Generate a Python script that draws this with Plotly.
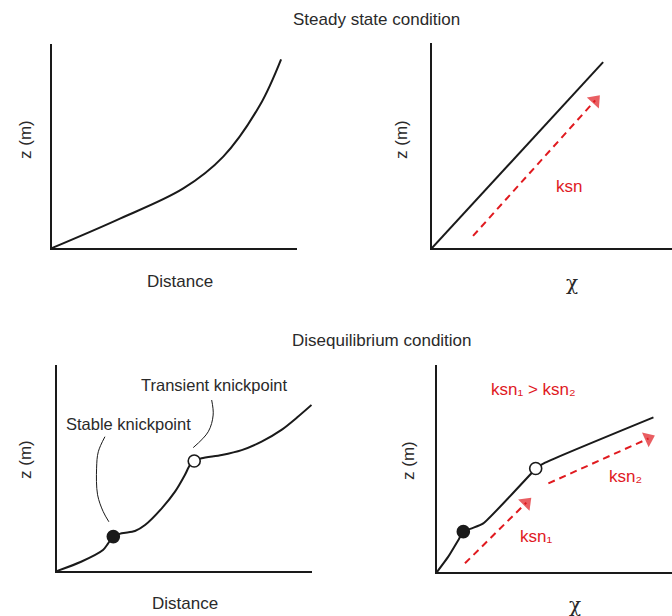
import plotly.graph_objects as go

W, H = 672, 616

# ---------------- data (axis units 0-10) ----------------
# Steady state: distance profile
ss_dist_x = [0, 2.64, 5.36, 6.99, 8.49, 9.35]
ss_dist_z = [0, 1.37, 2.92, 4.48, 7.01, 9.25]
# Steady state: chi plot
ss_chi_x = [0, 7.13]
ss_chi_z = [0, 9.07]
ss_arrow_x = [1.71, 6.80]
ss_arrow_z = [0.59, 7.20]

# Disequilibrium: distance profile
de_dist_x = [0, 0.98, 1.87, 2.08, 2.29, 2.63, 3.17, 3.58, 4.26, 4.80, 5.20, 5.41, 5.58,
             5.88, 6.70, 7.51, 8.32, 9.13, 9.81, 10.35]
de_dist_z = [0, 0.45, 1.02, 1.34, 1.67, 1.83, 1.94, 2.23, 3.04, 3.85, 4.66, 5.15, 5.34,
             5.47, 5.63, 5.87, 6.28, 6.85, 7.50, 8.06]
stable_kp = (2.29, 1.67)
transient_kp = (5.58, 5.34)
stable_leader_x = [1.95, 1.68, 1.61, 1.65, 1.88, 2.11]
stable_leader_z = [6.52, 5.79, 4.99, 3.70, 2.88, 2.39]
trans_leader_x = [6.29, 6.35, 6.15, 5.54]
trans_leader_z = [8.30, 7.57, 6.76, 5.99]

# Disequilibrium: chi plot
de_chi_x = [0, 0.48, 0.91, 1.12, 1.48, 1.97, 3.96, 4.20, 4.60, 9.21]
de_chi_z = [0, 0.74, 1.55, 1.95, 2.11, 2.35, 4.70, 5.00, 5.28, 7.47]
chi_stable = (1.12, 1.95)
chi_transient = (4.20, 5.00)
arrow1_x = [1.19, 3.80]
arrow1_z = [0.42, 3.35]
arrow2_x = [4.74, 9.00]
arrow2_z = [4.28, 6.45]

RED = "#e01a1f"
BLACK = "#1a1a1a"
TXT = "#2a2a2a"
FONT = "Liberation Sans, Arial, sans-serif"

fig = go.Figure()

def line(x, y, xa, ya, width=2, color=BLACK, shape="spline", smoothing=1.0):
    fig.add_trace(go.Scatter(x=x, y=y, mode="lines", xaxis=xa, yaxis=ya,
                             line=dict(color=color, width=width, shape=shape,
                                       smoothing=smoothing),
                             hoverinfo="skip", showlegend=False))

def arrow(x, y, xa, ya):
    fig.add_trace(go.Scatter(x=x, y=y, mode="lines+markers", xaxis=xa, yaxis=ya,
                             line=dict(color=RED, width=2, dash="7px,5px"),
                             marker=dict(symbol="triangle-up", size=[0, 14], color=RED,
                                         angleref="previous", line=dict(width=0)),
                             hoverinfo="skip", showlegend=False, cliponaxis=False))

def dot(pt, xa, ya, filled):
    fig.add_trace(go.Scatter(x=[pt[0]], y=[pt[1]], mode="markers", xaxis=xa, yaxis=ya,
                             marker=dict(size=12, color=BLACK if filled else "white",
                                         line=dict(color=BLACK, width=1.6)),
                             hoverinfo="skip", showlegend=False, cliponaxis=False))

# Top-left
line(ss_dist_x, ss_dist_z, "x", "y")
# Top-right
line(ss_chi_x, ss_chi_z, "x2", "y2", shape="linear")
arrow(ss_arrow_x, ss_arrow_z, "x2", "y2")
# Bottom-left
line(de_dist_x, de_dist_z, "x3", "y3", smoothing=0.8)
line(stable_leader_x, stable_leader_z, "x3", "y3", width=1)
line(trans_leader_x, trans_leader_z, "x3", "y3", width=1)
dot(stable_kp, "x3", "y3", True)
dot(transient_kp, "x3", "y3", False)
# Bottom-right
line(de_chi_x, de_chi_z, "x4", "y4", smoothing=0.5)
arrow(arrow1_x, arrow1_z, "x4", "y4")
arrow(arrow2_x, arrow2_z, "x4", "y4")
dot(chi_stable, "x4", "y4", True)
dot(chi_transient, "x4", "y4", False)

def px(x):
    return x / W

def py(y):
    return 1 - y / H

def axis(dom, rng):
    return dict(domain=dom, range=rng, showline=True, linecolor=BLACK, linewidth=2,
                showgrid=False, zeroline=False, showticklabels=False, ticks="",
                fixedrange=True)

layout = dict(
    width=W, height=H, margin=dict(l=0, r=0, t=0, b=0),
    paper_bgcolor="white", plot_bgcolor="white", showlegend=False,
    font=dict(family=FONT, color=TXT, size=17),
    xaxis=axis([px(52), px(297)], [0, 10]),
    yaxis=axis([py(248), py(44)], [0, 10]),
    xaxis2=axis([px(432), 1.0], [0, 10]),
    yaxis2=axis([py(248), py(43)], [0, 10]),
    xaxis3=axis([px(57), px(312)], [0, 10.37]),
    yaxis3=axis([py(571), py(365)], [0, 10]),
    xaxis4=axis([px(437), 1.0], [0, 10]),
    yaxis4=axis([py(572), py(365)], [0, 10]),
)
for n in ["", "2", "3", "4"]:
    layout["yaxis" + n]["anchor"] = "x" + n
    layout["xaxis" + n]["anchor"] = "y" + n
fig.update_layout(**layout)

ann = []
def ptext(text, x, y, size=17, angle=0, family=FONT, color=TXT):
    ann.append(dict(text=text, x=px(x), y=py(y), xref="paper", yref="paper",
                    showarrow=False, textangle=angle, xanchor="center", yanchor="middle",
                    font=dict(size=size, family=family, color=color)))

def dtext(text, x, y, xa, ya, size=17, color=RED):
    ann.append(dict(text=text, x=x, y=y, xref=xa, yref=ya, showarrow=False,
                    xanchor="center", yanchor="middle",
                    font=dict(size=size, family=FONT, color=color)))

ptext("Steady state condition", 376, 20)
ptext("Disequilibrium condition", 382, 340)
ptext("z (m)", 25, 140, angle=-90)
ptext("z (m)", 401, 140, angle=-90)
ptext("z (m)", 25, 460, angle=-90)
ptext("z (m)", 408, 460, angle=-90)
ptext("Distance", 180, 281)
ptext("Distance", 185, 603)
ptext("χ", 572, 283, size=20, family="DejaVu Serif, serif")
ptext("χ", 575, 605, size=20, family="DejaVu Serif, serif")

dtext("ksn", 5.71, 2.98, "x2", "y2")
dtext("Stable knickpoint", 2.91, 7.14, "x3", "y3", size=16.5, color=TXT)
dtext("Transient knickpoint", 6.42, 9.03, "x3", "y3", size=16.5, color=TXT)
dtext("ksn₁ > ksn₂", 4.09, 8.84, "x4", "y4")
dtext("ksn₂", 8.00, 4.60, "x4", "y4")
dtext("ksn₁", 4.22, 1.71, "x4", "y4")

fig.update_layout(annotations=ann)
fig.write_html("out.html", config={"displayModeBar": False},
               post_script="document.body.style.margin='0px';")
